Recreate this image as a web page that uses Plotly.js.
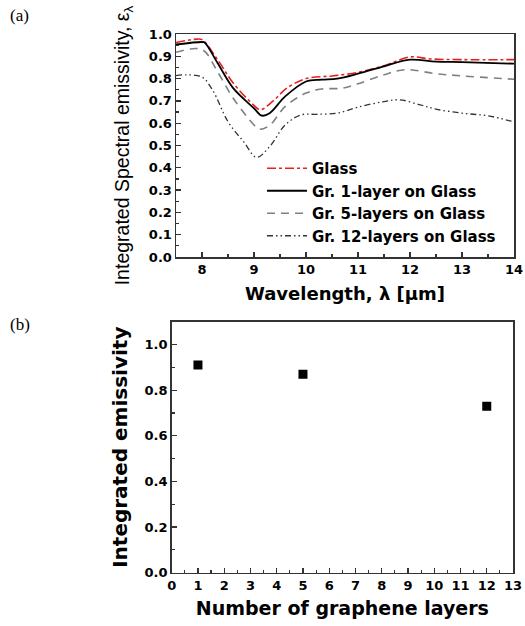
<!DOCTYPE html>
<html>
<head>
<meta charset="utf-8">
<script src="https://cdn.plot.ly/plotly-3.0.1.min.js"></script>
<style>html,body{margin:0;padding:0;background:#fff}#chart{width:525px;height:626px}</style>
</head>
<body>
<div id="chart"></div>
<script>
// Panel (a) spectral emissivity
const wlGlass = [7.5, 7.9, 8.0, 8.3, 8.6, 9.0, 9.12, 9.37, 9.63, 10.0, 10.5, 11.0, 11.5, 12.0, 12.4, 13.0, 14.0];
const emGlass = [0.962, 0.977, 0.975, 0.885, 0.78, 0.68, 0.66, 0.70, 0.757, 0.80, 0.812, 0.828, 0.858, 0.897, 0.888, 0.885, 0.885];

const wlGr1 = [7.5, 8.0, 8.05, 8.3, 8.6, 9.0, 9.15, 9.3, 9.6, 10.0, 10.3, 10.6, 11.0, 11.5, 12.0, 12.5, 13.0, 14.0];
const emGr1 = [0.953, 0.964, 0.962, 0.87, 0.757, 0.667, 0.634, 0.645, 0.72, 0.787, 0.795, 0.80, 0.822, 0.855, 0.885, 0.876, 0.874, 0.867];

const wlGr5 = [7.5, 8.0, 8.3, 8.6, 9.0, 9.1, 9.3, 9.6, 10.0, 10.3, 10.7, 11.0, 11.5, 11.9, 12.5, 13.0, 14.0];
const emGr5 = [0.918, 0.93, 0.83, 0.712, 0.592, 0.573, 0.59, 0.675, 0.735, 0.753, 0.757, 0.777, 0.817, 0.84, 0.822, 0.812, 0.797];

const wlGr12 = [7.5, 7.7, 8.0, 8.2, 8.5, 8.8, 9.05, 9.3, 9.6, 9.9, 10.2, 10.6, 11.0, 11.5, 11.8, 12.2, 12.5, 13.0, 13.5, 14.0];
const emGr12 = [0.813, 0.817, 0.807, 0.75, 0.607, 0.517, 0.447, 0.495, 0.592, 0.637, 0.64, 0.645, 0.672, 0.697, 0.705, 0.682, 0.663, 0.645, 0.633, 0.606];

const seriesNames = ["Glass", "Gr. 1-layer on Glass", "Gr. 5-layers on Glass", "Gr. 12-layers on Glass"];

// Panel (b) integrated emissivity
const layers = [1, 5, 12];
const intEm = [0.91, 0.87, 0.73];

const W = 525, H = 626;
const WIDE = "DejaVu Sans, Verdana, sans-serif";
const NARROW = "Liberation Sans, Arial, sans-serif";
function bf(size, fam) { return {family: fam || WIDE, size: size, color: "#000", weight: 700}; }

function axisBase() {
  return {
    showline: true, mirror: true, linecolor: "#333", linewidth: 1.5,
    ticks: "inside", ticklen: 5, tickwidth: 1.3, tickcolor: "#333",
    showgrid: false, zeroline: false, tickfont: bf(13),
    minor: {ticks: "inside", ticklen: 3, tickwidth: 1.2, tickcolor: "#333", showgrid: false}
  };
}

const traces = [
  {x: wlGlass, y: emGlass, name: seriesNames[0], mode: "lines", line: {color: "#e8201c", dash: "dashdot", width: 1.6, shape: "spline"}, xaxis: "x", yaxis: "y"},
  {x: wlGr1, y: emGr1, name: seriesNames[1], mode: "lines", line: {color: "#000", dash: "solid", width: 1.8, shape: "spline"}, xaxis: "x", yaxis: "y"},
  {x: wlGr5, y: emGr5, name: seriesNames[2], mode: "lines", line: {color: "#808080", dash: "8px,6px", width: 1.6, shape: "spline"}, xaxis: "x", yaxis: "y"},
  {x: wlGr12, y: emGr12, name: seriesNames[3], mode: "lines", line: {color: "#333", dash: "6px,3px,1.5px,3px,1.5px,3px", width: 1.3, shape: "spline"}, xaxis: "x", yaxis: "y"},
  {x: layers, y: intEm, mode: "markers", showlegend: false, marker: {symbol: "square", size: 9, color: "#000"}, xaxis: "x2", yaxis: "y2"}
];

const xa = Object.assign(axisBase(), {
  domain: [176 / W, 514 / W], range: [7.5, 14], dtick: 1, tick0: 0, anchor: "y",
  title: {text: "Wavelength, λ [μm]", font: bf(18), standoff: 11}
});
xa.minor.dtick = 0.5;
const ya = Object.assign(axisBase(), {
  domain: [1 - 257 / H, 1 - 34 / H], range: [0, 1.0], dtick: 0.1, tickformat: ".1f", anchor: "x",
  title: {text: "Integrated Spectral emissivity, ε<sub>λ</sub>", font: {family: NARROW, size: 19.5, color: "#000"}, standoff: 14}
});
ya.minor.dtick = 0.05;
const xb = Object.assign(axisBase(), {
  domain: [171.7 / W, 513 / W], range: [0, 13], dtick: 1, anchor: "y2",
  title: {text: "Number of graphene layers", font: bf(19), standoff: 10}
});
xb.minor.dtick = 0.5;
const yb = Object.assign(axisBase(), {
  domain: [1 - 572.7 / H, 1 - 321.7 / H], range: [0, 1.1], dtick: 0.2, tickformat: ".1f", anchor: "x2",
  title: {text: "Integrated emissivity", font: bf(20), standoff: 11}
});
yb.minor.dtick = 0.1;

const layout = {
  width: W, height: H,
  margin: {l: 0, r: 0, t: 0, b: 0},
  paper_bgcolor: "#fff", plot_bgcolor: "#fff",
  xaxis: xa, yaxis: ya, xaxis2: xb, yaxis2: yb,
  showlegend: true,
  legend: {x: 262 / W, y: 1 - 152 / H, xanchor: "left", yanchor: "top", bgcolor: "rgba(0,0,0,0)",
    font: bf(15), tracegroupgap: 0, itemwidth: 40},
  annotations: [
    {text: "(a)", xref: "paper", yref: "paper", x: 8 / W, y: 1 - 4 / H, xanchor: "left", yanchor: "top", showarrow: false, font: {family: "Liberation Serif, Times New Roman, serif", size: 17, color: "#000"}},
    {text: "(b)", xref: "paper", yref: "paper", x: 8 / W, y: 1 - 313 / H, xanchor: "left", yanchor: "top", showarrow: false, font: {family: "Liberation Serif, Times New Roman, serif", size: 17, color: "#000"}}
  ]
};

Plotly.newPlot("chart", traces, layout, {staticPlot: true, displayModeBar: false});
</script>
</body>
</html>
